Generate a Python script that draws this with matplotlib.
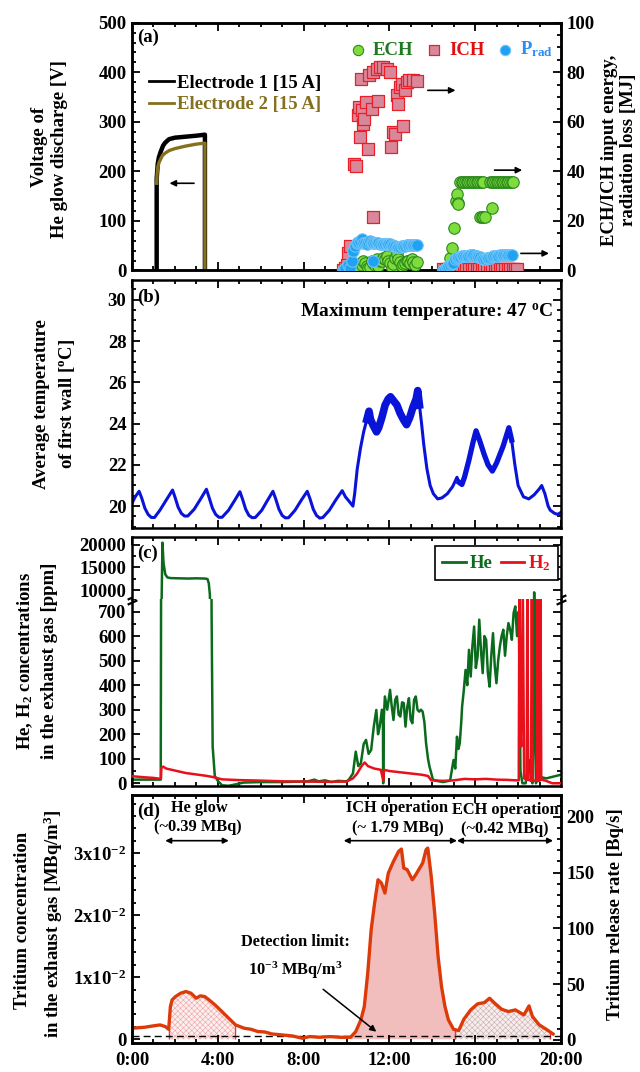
import numpy as np
import matplotlib
matplotlib.use("Agg")
import matplotlib.pyplot as plt
from matplotlib.ticker import MultipleLocator, FixedLocator, FixedFormatter, FuncFormatter
from matplotlib.lines import Line2D
from matplotlib import transforms

plt.rcParams.update({
    "font.family": ["Liberation Serif", "DejaVu Serif"],
    "font.weight": "bold",
    "font.size": 13.5,
    "mathtext.fontset": "custom",
    "mathtext.rm": "Liberation Serif:bold",
    "mathtext.it": "Liberation Serif:italic:bold",
    "mathtext.bf": "Liberation Serif:bold",
    "mathtext.sf": "Liberation Serif:bold",
    "axes.linewidth": 1.8,
    "hatch.linewidth": 0.4,
})
FS = 13.5
FA = 11.8

# ---------------- (a) glow discharge voltage ----------------
e1_t = [1.15, 1.15, 1.20, 1.25, 1.34, 1.45, 1.55, 1.73, 2.0, 2.5, 3.0, 3.38, 3.40, 3.40]
e1_v = [0, 185, 215, 228, 240, 252, 258, 265, 268, 270, 272, 274, 274, 0]
e2_t = [1.15, 1.17, 1.20, 1.26, 1.35, 1.42, 1.55, 1.73, 2.0, 2.5, 3.0, 3.40, 3.40]
e2_v = [176, 195, 208, 218, 226, 232, 237, 242, 246, 251, 255, 257, 0]

# ECH / ICH input energy and radiation loss [MJ]
ech_t = [9.93, 10.0, 10.16, 10.3, 10.40, 10.55, 10.63, 10.71, 10.79, 10.86, 10.94, 11.02, 11.1, 11.17,
         11.25, 11.33, 11.41, 11.48, 11.56, 11.64, 11.72, 11.80, 11.87, 11.95, 12.03, 12.11, 12.18,
         12.26, 12.34, 12.42, 12.49, 12.57, 12.65, 12.73, 12.8, 12.88, 12.96, 13.04, 13.12, 13.19, 13.30,
         14.51, 14.59, 14.67, 14.75, 14.83, 14.90, 15.01, 15.11, 15.17, 15.18, 15.21,
         15.29, 15.37, 15.45, 15.53, 15.60, 15.68, 15.76, 15.84, 15.91, 15.99, 16.07, 16.15, 16.23,
         16.30, 16.38, 16.23, 16.30, 16.38, 16.46, 16.77,
         16.69, 16.77, 16.85, 16.93, 17.00, 17.08, 17.16, 17.24, 17.31, 17.39, 17.47, 17.55, 17.62,
         17.70, 17.78]
ech_e = [1.1, 0.5, 2.4, 1.5, 1.1, 1.8, 1.0, 2.4, 3.8, 3.1, 2.0, 1.1, 1.5, 3.8,
         3.0, 2.4, 4.5, 2.0, 3.8, 4.0, 5.1, 4.5, 5.8, 3.8, 3.0, 1.1, 2.5,
         5.1, 6.5, 4.5, 3.5, 1.8, 2.5, 3.1, 4.0, 3.8, 3.0, 4.5, 3.5, 2.4, 3.5,
         0.0, 0.4, 0.8, 1.1, 5.1, 9.2, 17.3, 28.1, 30.8, 27.4, 26.8,
         35.8, 35.8, 35.8, 35.8, 35.8, 35.8, 35.8, 35.8, 35.8, 35.8, 35.8, 35.8, 35.8,
         35.8, 35.8, 21.4, 21.4, 21.4, 21.4, 25.1,
         35.8, 35.8, 35.8, 35.8, 35.8, 35.8, 35.8, 35.8, 35.8, 35.8, 35.8, 35.8, 35.8,
         35.8, 35.8]
ich_t = [9.85, 9.93, 10.01, 10.09, 10.16, 10.35, 10.44, 10.52, 10.57, 10.63, 10.71, 10.79, 10.83,
         10.91, 11.02, 10.68, 11.06, 11.17, 11.22, 11.41, 11.48, 11.56, 11.72, 11.87, 12.03, 11.25,
         12.07, 12.18, 12.26, 12.34, 12.42, 12.49, 12.57, 12.65, 12.73, 12.80, 12.93, 13.08, 13.30,
         14.51, 14.63, 14.75, 14.87, 14.99, 15.11, 15.23, 15.35, 15.47, 15.59, 15.71, 15.83, 15.95,
         16.07, 16.19, 16.31, 16.43, 16.55, 16.67, 16.79, 16.91, 17.03, 17.15, 17.27, 17.39, 17.51,
         17.63, 17.75, 17.87, 17.93]
ich_e = [0.3, 1.1, 2.4, 7.0, 9.7, 43.0, 42.3, 62.6, 65.9, 53.8, 64.6, 59.2, 61.2,
         68.0, 49.0, 77.4, 78.8, 65.3, 80.1, 81.5, 68.6, 82.2, 82.2, 81.5, 80.1, 21.6,
         49.7, 55.8, 55.1, 70.7, 67.3, 74.0, 75.4, 58.2, 72.7, 76.1, 76.8, 76.8, 76.4,
         0.7, 0.7, 0.7, 0.7, 0.7, 0.7, 0.7, 0.7, 0.7, 0.7, 0.7, 0.7, 0.7,
         0.7, 0.7, 0.7, 0.7, 0.7, 0.7, 0.7, 0.7, 0.7, 0.7, 0.7, 0.7, 0.7,
         0.7, 0.7, 0.7, 0.7]
prad_t = [9.85, 9.93, 10.09, 10.16, 10.24, 10.32, 10.40, 10.47, 10.55, 10.63, 10.71, 10.79, 10.86,
          10.94, 11.02, 11.10, 11.17, 11.25, 11.25, 11.33, 11.41, 11.48, 11.56, 11.64, 11.72, 11.80,
          11.87, 11.95, 12.03, 12.11, 12.18, 12.26, 12.34, 12.42, 12.49, 12.57, 12.65, 12.73, 12.80,
          12.88, 12.96, 13.04, 13.12, 13.20, 13.30,
          14.51, 14.59, 14.67, 14.75, 14.83, 14.90, 14.98, 15.06, 15.13, 15.21, 15.29, 15.37, 15.45,
          15.52, 15.60, 15.68, 15.76, 15.84, 15.91, 15.99, 16.07, 16.15, 16.23, 16.30, 16.38, 16.46,
          16.53, 16.61, 16.69, 16.77, 16.85, 16.93, 17.00, 17.08, 17.16, 17.24, 17.31, 17.39, 17.47,
          17.55, 17.62, 17.70]
prad_e = [0.0, 1.1, 2.4, 1.1, 3.8, 7.8, 9.9, 11.2, 11.5, 11.9, 12.6, 11.2, 11.0,
          10.5, 11.5, 11.9, 11.5, 11.2, 3.8, 11.0, 11.2, 11.0, 10.8, 10.6, 10.5, 10.6,
          10.8, 10.6, 10.5, 10.2, 9.9, 9.7, 9.5, 9.5, 9.5, 9.7, 9.9, 10.0, 10.1,
          10.1, 10.1, 10.1, 10.1, 10.1, 10.1,
          0.0, 0.5, 1.1, 1.8, 2.4, 2.8, 3.1, 4.5, 5.0, 5.4, 5.6, 5.8, 5.8,
          5.8, 5.8, 6.0, 6.2, 6.2, 6.1, 6.0, 5.8, 5.6, 5.4, 5.0, 4.5, 4.6,
          4.9, 5.0, 5.1, 5.4, 5.8, 5.8, 5.8, 6.0, 6.1, 6.1, 6.1, 6.2, 6.2,
          6.2, 6.2, 6.2]

# ---------------- (b) first wall temperature ----------------
temp_t = [0.00, 0.15, 0.33, 0.45, 0.60, 0.75, 0.90, 1.05, 1.30, 1.60, 1.89, 2.00, 2.15, 2.30, 2.45,
          2.60, 2.90, 3.20, 3.47, 3.60, 3.75, 3.90, 4.05, 4.20, 4.50, 4.80, 5.03, 5.15, 5.30, 5.45,
          5.60, 5.75, 6.05, 6.30, 6.57, 6.70, 6.85, 7.00, 7.15, 7.30, 7.60, 7.90, 8.17, 8.30, 8.45,
          8.60, 8.75, 8.90, 9.20, 9.50, 9.80, 9.95, 10.15, 10.30, 10.38, 10.50, 10.65, 10.80, 10.95,
          11.05, 11.12, 11.25, 11.40, 11.50, 11.65, 11.80, 11.95, 12.05, 12.20, 12.35, 12.50, 12.65,
          12.80, 12.95, 13.10, 13.25, 13.32, 13.40, 13.50, 13.60, 13.75, 13.90, 14.05, 14.25, 14.45,
          14.70, 14.95, 15.15, 15.25, 15.38, 15.50, 15.70, 15.90, 16.04, 16.20, 16.42, 16.60, 16.80,
          17.00, 17.30, 17.57, 17.70, 17.85, 18.00, 18.25, 18.50, 18.75, 19.00, 19.10, 19.25, 19.40,
          19.50, 19.70, 19.85, 20.00]
temp_v = [20.15, 20.45, 20.72, 20.40, 19.90, 19.60, 19.45, 19.45, 19.80, 20.30, 20.78, 20.45, 19.95,
          19.65, 19.52, 19.52, 19.85, 20.35, 20.82, 20.40, 19.90, 19.60, 19.46, 19.46, 19.80, 20.30,
          20.70, 20.35, 19.85, 19.55, 19.44, 19.45, 19.80, 20.25, 20.72, 20.35, 19.85, 19.55, 19.43,
          19.44, 19.80, 20.30, 20.72, 20.35, 19.85, 19.55, 19.42, 19.45, 19.80, 20.30, 20.75, 20.45,
          20.20, 20.00, 20.60, 21.80, 22.80, 23.60, 24.20, 24.60, 24.20, 23.90, 23.60, 23.80, 24.30,
          24.90, 25.20, 25.30, 25.10, 24.90, 24.50, 24.20, 23.95, 24.30, 24.80, 25.20, 25.60, 24.90,
          24.00, 23.00, 21.80, 21.00, 20.60, 20.35, 20.40, 20.60, 20.95, 21.40, 21.15, 21.05, 21.40,
          22.20, 23.10, 23.65, 23.20, 22.50, 22.00, 21.70, 22.10, 22.90, 23.80, 23.20, 22.00, 21.00,
          20.45, 20.35, 20.55, 20.85, 21.00, 20.60, 20.00, 19.80, 19.65, 19.60, 19.70]

# ---------------- (c) He / H2 concentrations [ppm] ----------------
he_t = [0.00, 0.50, 1.00, 1.34, 1.36, 1.42, 1.47, 1.55, 1.65, 1.80, 2.20, 2.60, 3.00, 3.40, 3.52,
        3.58, 3.63, 3.67, 3.71, 3.76, 3.86, 4.00, 4.20, 4.50, 4.80, 5.20, 6.00, 7.00, 8.20, 8.50,
        8.70, 9.00, 9.30, 9.60, 10.00,
        10.11, 10.30, 10.43, 10.55, 10.67, 10.80, 10.91, 11.03, 11.15, 11.27, 11.39, 11.47, 11.55,
        11.65, 11.70, 11.71, 11.73, 11.79, 11.90, 12.03, 12.10, 12.19, 12.27, 12.35, 12.43, 12.51,
        12.59, 12.67, 12.75, 12.83, 12.91, 12.99, 13.07, 13.15, 13.23, 13.31, 13.39, 13.47, 13.55,
        13.63, 13.71, 13.80, 13.87, 14.03, 14.20, 14.50, 14.83,
        14.99, 15.07, 15.15, 15.22, 15.28, 15.35, 15.39, 15.47, 15.55, 15.63, 15.71, 15.79, 15.87,
        15.95, 16.03, 16.11, 16.19, 16.27, 16.35, 16.43, 16.51, 16.59, 16.67, 16.75, 16.83, 16.91,
        16.99, 17.07, 17.15, 17.23, 17.31, 17.39, 17.47, 17.55, 17.63, 17.71, 17.79, 17.87, 17.95,
        18.03, 18.07, 18.11, 18.20, 18.35, 18.45, 18.51, 18.60, 18.67, 18.72, 18.75, 18.78, 18.83,
        18.99, 19.31, 19.63, 19.95, 20.00]
he_v = [15, 15, 15, 15, 1000, 20500, 16000, 13500, 12800, 12650, 12600, 12550, 12600, 12550, 12450,
        11500, 9000, 2000, 700, 150, 30, 10, -8, -10, -5, 3, 5, 5, 8, 15,
        8, 12, 5, 10, 8,
        15, 40, 129, 70, 82, 160, 177, 120, 136, 230, 299, 200, 231,
        300, 240, 0, 250, 354, 300, 381, 320, 258, 340, 354, 280, 272,
        330, 327, 231, 310, 347, 260, 245, 340, 354, 300, 292, 300, 292,
        250, 163, 100, 68, 15, 10, 5, 11,
        95, 60, 190, 140, 163, 250, 313, 380, 462, 400, 544, 435, 560,
        639, 470, 517, 667, 540, 449, 600, 585, 450, 394, 520, 612, 480,
        408, 500, 558, 600, 626, 520, 600, 653, 626, 585, 694, 721, 600,
        700, 400, 50, 0, 0, 60, 95, 20, 0, 300, 9500, 300, 0,
        27, 20, 27, 34, 35]
h2_t = [0.00, 0.50, 1.00, 1.35, 1.37, 1.45, 1.60, 2.00, 2.50, 3.00, 3.50, 3.80, 4.20, 5.00, 6.00,
        7.00, 8.00, 9.00, 10.00, 10.30, 10.50, 10.70, 10.85, 11.00, 11.30, 11.60, 11.72, 11.75,
        12.00, 12.50, 13.00, 13.50, 13.80, 13.95, 14.50, 15.00, 15.50, 16.00, 16.50, 17.00, 17.50,
        17.90, 18.03, 18.06, 18.10, 18.14, 18.22, 18.28, 18.40, 18.43, 18.47, 18.60, 18.64, 18.68,
        18.88, 18.91, 18.95, 19.00, 19.04, 19.08, 19.30, 19.60, 20.00]
h2_v = [29, 25, 22, 18, 62, 68, 60, 52, 42, 36, 30, 25, 16, 13, 11,
        8, 7, 6, 7, 20, 40, 70, 85, 70, 60, 55, 10, 55,
        50, 45, 40, 35, 30, 12, 10, 12, 18, 16, 18, 15, 14,
        12, 12, 800, 231, 150, 800, 20, 15, 800, 15, 10, 800, 10,
        12, 800, 10, 10, 800, 15, 10, 0, 0]

# ---------------- (d) tritium ----------------
tr_t = [0.00, 0.59, 1.07, 1.31, 1.55, 1.71, 1.79, 1.87, 2.03, 2.27, 2.51, 2.75, 2.99, 3.18, 3.39,
        3.63, 3.87, 4.11, 4.35, 4.59, 4.83, 5.23, 5.55, 5.87, 6.19, 6.51, 6.99, 7.47, 7.95, 8.27,
        8.75, 9.23, 9.71, 10.19, 10.43, 10.67, 10.83, 10.99, 11.15, 11.31, 11.47, 11.63, 11.79,
        11.95, 12.19, 12.43, 12.56, 12.67, 12.83, 13.07, 13.23, 13.55, 13.71, 13.79, 13.95, 14.11,
        14.27, 14.43, 14.59, 14.75, 14.99, 15.23, 15.47, 15.79, 16.11, 16.43, 16.67, 16.91, 17.23,
        17.55, 17.87, 18.27, 18.51, 18.67, 18.99, 19.31, 19.63]
tr_c = [0.00178, 0.00194, 0.00220, 0.00231, 0.00205, 0.00161, 0.00528, 0.00635, 0.00689, 0.00743,
        0.00770, 0.00743, 0.00662, 0.00700, 0.00689, 0.00624, 0.00554, 0.00474, 0.00393, 0.00312,
        0.00231, 0.00178, 0.00161, 0.00124, 0.00118, 0.00086, 0.00070, 0.00054, 0.00016, 0.00043,
        0.00032, 0.00043, 0.00032, 0.00032, 0.00124, 0.00312, 0.00528, 0.01066, 0.01766, 0.02196,
        0.02573, 0.02519, 0.02358, 0.02681, 0.02869, 0.03031, 0.03068, 0.02761, 0.02735, 0.02573,
        0.02654, 0.02842, 0.03058, 0.03084, 0.02627, 0.02035, 0.01335, 0.00850, 0.00528, 0.00312,
        0.00161, 0.00140, 0.00323, 0.00474, 0.00571, 0.00592, 0.00662, 0.00581, 0.00484, 0.00447,
        0.00474, 0.00393, 0.00538, 0.00366, 0.00231, 0.00161, 0.00086]
glow_span = (1.71, 4.78)
ich_span = (10.19, 15.08)
ech_span = (15.08, 19.47)
detection_limit = 0.0006

xticks_major = [0, 4, 8, 12, 16, 20]

# ---------------- figure ----------------
fig = plt.figure(figsize=(6.4, 10.72), dpi=100)


def rect(top, bottom, left=132, right=561):
    return [left / 640, 1 - bottom / 1072, (right - left) / 640, (bottom - top) / 1072]


def style(ax, left=True, right=True, top=True, bottom=True, labelleft=True, labelright=False,
          labelbottom=False):
    ax.tick_params(axis='both', which='both', direction='in', width=1.3, labelsize=FS, pad=4)
    ax.tick_params(axis='x', which='both', top=top, bottom=bottom, labelbottom=labelbottom,
                   labeltop=False)
    ax.tick_params(axis='y', which='both', left=left, right=right, labelleft=labelleft,
                   labelright=labelright)
    ax.tick_params(which='major', length=5.5)
    ax.tick_params(which='minor', length=3)


def xaxis(ax):
    ax.set_xlim(0, 20)
    ax.xaxis.set_major_locator(FixedLocator(xticks_major))
    ax.xaxis.set_minor_locator(MultipleLocator(1))
    ax.xaxis.set_major_formatter(FuncFormatter(lambda v, p: f"{int(round(v))}:00"))


def right_axis(ax2, major, minor):
    ax2.yaxis.set_major_locator(MultipleLocator(major))
    ax2.yaxis.set_minor_locator(MultipleLocator(minor))
    ax2.tick_params(axis='y', which='both', direction='in', width=1.3, labelsize=FS, right=True,
                    left=False, labelright=True, pad=4)
    ax2.tick_params(which='major', length=5.5)
    ax2.tick_params(which='minor', length=3)
    ax2.tick_params(axis='x', which='both', top=False, bottom=False)
    for sp in ax2.spines.values():
        sp.set_linewidth(1.8)


# ----- (a) -----
axa = fig.add_axes(rect(22.7, 270.5))
xaxis(axa)
axa.plot(e1_t, e1_v, color='black', lw=3.2, solid_joinstyle='round')
axa.plot(e2_t, e2_v, color='#85701f', lw=2.4)
axa.set_ylim(0, 500)
axa.yaxis.set_major_locator(MultipleLocator(100))
axa.yaxis.set_minor_locator(MultipleLocator(20))
style(axa, right=False)
axa.text(0.012, 0.94, '(a)', transform=axa.transAxes, va='center', fontsize=FS)
leg1 = axa.legend([Line2D([], [], color='black', lw=2), Line2D([], [], color='#85701f', lw=2)],
                  ['Electrode 1 [15 A]', 'Electrode 2 [15 A]'], loc='upper left',
                  bbox_to_anchor=(0.04, 0.79), frameon=False, handlelength=1.35,
                  handletextpad=0.15, labelspacing=0.22, borderpad=0, borderaxespad=0, fontsize=FS)
for t, c in zip(leg1.get_texts(), ['black', '#85701f']):
    t.set_color(c)
axa.annotate('', xy=(1.62, 176), xytext=(3.02, 176),
             arrowprops=dict(arrowstyle='-|>', color='black', lw=1.2, mutation_scale=9))

axa2 = axa.twinx()
axa2.set_ylim(0, 100)
right_axis(axa2, 20, 5)
s_ich = axa2.scatter(ich_t, ich_e, marker='s', s=66, facecolor='#d9879a', edgecolor='#e8202a',
                     linewidths=0.9, zorder=3)
s_ech = axa2.scatter(ech_t, ech_e, marker='o', s=68, facecolor='#80dc3c', edgecolor='#2a8a1e',
                     linewidths=0.8, zorder=4)
s_prad = axa2.scatter(prad_t, prad_e, marker='o', s=68, facecolor='#1fa2f2', edgecolor='#6ec3f7',
                      linewidths=0.8, zorder=5)
leg2 = axa2.legend([s_ech, s_ich, s_prad], ['ECH', 'ICH', 'P$_{\\rm rad}$'], loc='upper right',
                   bbox_to_anchor=(1.012, 0.985), ncol=3, frameon=False, handlelength=0.7,
                   handletextpad=0.45, columnspacing=0.75, scatterpoints=1, borderpad=0.2,
                   fontsize=FS, markerscale=0.9)
for t, c in zip(leg2.get_texts(), ['#1e7a1e', '#e01010', '#2a8ef5']):
    t.set_color(c)
for y0, x0, x1 in [(72.7, 13.66, 15.21), (40.5, 16.77, 18.32), (6.9, 18.0, 19.57)]:
    axa2.annotate('', xy=(x1, y0), xytext=(x0, y0),
                  arrowprops=dict(arrowstyle='-|>', color='black', lw=1.2, mutation_scale=9))

fig.text(40 / 640, 1 - 147 / 1072, 'Voltage of', rotation=90, ha='center', va='center', fontsize=FS)
fig.text(60 / 640, 1 - 149 / 1072, 'He glow discharge [V]', rotation=90, ha='center', va='center',
         fontsize=FS)
fig.text(609 / 640, 1 - 150 / 1072, 'ECH/ICH input energy,', rotation=90, ha='center', va='center',
         fontsize=FS)
fig.text(629 / 640, 1 - 150 / 1072, 'radiation loss [MJ]', rotation=90, ha='center', va='center',
         fontsize=FS)

# ----- (b) -----
axb = fig.add_axes(rect(280, 528))
xaxis(axb)
axb.plot(temp_t, temp_v, color='#0a14d8', lw=2.2)
tt = np.array(temp_t)
tv = np.array(temp_v)
m1 = (tt >= 10.9) & (tt <= 13.4)
m2 = (tt >= 15.2) & (tt <= 17.75)
axb.plot(tt[m1], tv[m1], color='#0a14d8', lw=5.5)
axb.plot(tt[m2], tv[m2], color='#0a14d8', lw=3.8)
axb.set_ylim(18.94, 30.96)
axb.yaxis.set_major_locator(MultipleLocator(2))
axb.yaxis.set_minor_locator(MultipleLocator(0.5))
style(axb)
axb.text(0.012, 0.929, '(b)', transform=axb.transAxes, va='center', fontsize=FS)
axb.text(0.983, 0.872, 'Maximum temperature: 47 $^{\\rm o}$C', transform=axb.transAxes,
         ha='right', va='center', fontsize=14)
fig.text(42 / 640, 1 - 404 / 1072, 'Average temperature', rotation=90, ha='center', va='center',
         fontsize=FS)
fig.text(67 / 640, 1 - 404 / 1072, 'of first wall [$^{\\rm o}$C]', rotation=90, ha='center',
         va='center', fontsize=FS)

# ----- (c) -----
axcl = fig.add_axes(rect(599.3, 786))
axcu = fig.add_axes(rect(537, 599.3))
for ax in (axcl, axcu):
    xaxis(ax)
    ax.plot(he_t, he_v, color='#0b6b1c', lw=1.8, zorder=2)
    ax.plot(h2_t, h2_v, color='#e8101a', lw=1.8, zorder=3)
axcl.set_ylim(-11, 750)
axcl.yaxis.set_major_locator(MultipleLocator(100))
axcl.yaxis.set_minor_locator(MultipleLocator(50))
axcl.spines['top'].set_visible(False)
style(axcl, top=False)
axcl.patch.set_alpha(0)
axcu.set_ylim(7950, 21760)
axcu.yaxis.set_major_locator(FixedLocator([10000, 15000, 20000]))
axcu.yaxis.set_minor_locator(FixedLocator([12500, 17500]))
axcu.spines['bottom'].set_visible(False)
style(axcu, bottom=False)
axcu.text(0.012, 0.743, '(c)', transform=axcu.transAxes, va='center', fontsize=FS)
leg3 = axcu.legend([Line2D([], [], color='#0b6b1c', lw=2), Line2D([], [], color='#e8101a', lw=2)],
                   ['He', 'H$_2$'], loc='upper right', bbox_to_anchor=(0.993, 0.86), ncol=2,
                   frameon=True, fancybox=False, edgecolor='black', framealpha=1,
                   handlelength=1.25, handletextpad=0.2, columnspacing=0.45, borderpad=0.4,
                   borderaxespad=0, fontsize=FS)
leg3.get_frame().set_linewidth(1.2)
for t, c in zip(leg3.get_texts(), ['#0b6b1c', '#e8101a']):
    t.set_color(c)
# break marks
for xpos in (0, 1):
    for dy in (-2.0, 1.5):
        tr = transforms.offset_copy(axcl.transAxes, fig=fig, x=0, y=dy, units='points')
        axcl.plot([xpos], [1], transform=tr, marker=[(-1, -0.45), (1, 0.45)], ms=7, mew=1.6,
                  color='black', ls='none', clip_on=False, zorder=10)
fig.text(25 / 640, 1 - 661 / 1072, 'He, H$_2$ concentrations', rotation=90, ha='center',
         va='center', fontsize=FS)
fig.text(50 / 640, 1 - 661 / 1072, 'in the exhaust gas [ppm]', rotation=90, ha='center',
         va='center', fontsize=FS)

# ----- (d) -----
axd = fig.add_axes(rect(795, 1043.3))
xaxis(axd)
trt = np.array(tr_t)
trc = np.array(tr_c)


def seg(a, b):
    m = (trt > a) & (trt < b)
    xs = np.concatenate([[a], trt[m], [b]])
    ys = np.concatenate([[np.interp(a, trt, trc)], trc[m], [np.interp(b, trt, trc)]])
    return xs, ys


xs, ys = seg(*glow_span)
axd.fill_between(xs, 0, ys, facecolor='#fcefef', edgecolor='#eda3a3', hatch='xxxxxx', linewidth=0)
xs, ys = seg(*ich_span)
axd.fill_between(xs, 0, ys, facecolor='#f2bdbd', edgecolor='none', linewidth=0)
xs, ys = seg(*ech_span)
axd.fill_between(xs, 0, ys, facecolor='#f9ecec', edgecolor='#c4b0b0', hatch='xxxxxx', linewidth=0)
edges = [glow_span[0], glow_span[1], ech_span[0], ech_span[1]]
axd.vlines(edges, 0, np.interp(edges, trt, trc), color='#e03a3a', lw=1.0)
axd.axhline(detection_limit, color='black', lw=1.0, ls=(0, (5, 3)))
axd.plot(tr_t, tr_c, color='#dd3a0a', lw=2.4)
axd.set_ylim(-0.00065, 0.0394)
axd.yaxis.set_major_locator(FixedLocator([0, 0.01, 0.02, 0.03]))
axd.yaxis.set_major_formatter(FixedFormatter(['0', '1x10$^{-2}$', '2x10$^{-2}$', '3x10$^{-2}$']))
axd.yaxis.set_minor_locator(MultipleLocator(0.002))
style(axd, right=False, labelbottom=True)
axd.tick_params(axis='x', pad=6)
axd.text(0.012, 0.935, '(d)', transform=axd.transAxes, va='center', fontsize=FS)
bt = axd.get_xaxis_transform()
axd.text(3.15, 0.946, 'He glow', transform=bt, ha='center', va='center', fontsize=FA)
axd.text(3.07, 0.872, '(~0.39 MBq)', transform=bt, ha='center', va='center', fontsize=FA)
axd.text(12.38, 0.946, 'ICH operation', transform=bt, ha='center', va='center', fontsize=FA)
axd.text(12.38, 0.866, '(~ 1.79 MBq)', transform=bt, ha='center', va='center', fontsize=FA)
axd.text(14.91, 0.94, 'ECH operation', transform=bt, ha='left', va='center', fontsize=FA,
         clip_on=True)
axd.text(17.39, 0.862, '(~0.42 MBq)', transform=bt, ha='center', va='center', fontsize=FA)
for a, b in [(1.55, 4.51), (9.87, 15.15), (15.15, 19.63)]:
    axd.annotate('', xy=(b, 0.816), xytext=(a, 0.816), xycoords=bt, textcoords=bt,
                 arrowprops=dict(arrowstyle='<|-|>', color='black', lw=1.2, mutation_scale=8,
                                 shrinkA=0, shrinkB=0))
axd.text(7.61, 0.407, 'Detection limit:', transform=bt, ha='center', va='center', fontsize=FA)
axd.text(7.63, 0.295, '10$^{-3}$ MBq/m$^{3}$', transform=bt, ha='center', va='center',
         fontsize=FA)
axd.annotate('', xy=(11.39, 0.0467), xytext=(8.91, 0.2175), xycoords=bt, textcoords=bt,
             arrowprops=dict(arrowstyle='-|>', color='black', lw=1.1, mutation_scale=9,
                             shrinkA=0, shrinkB=0))

axd2 = axd.twinx()
axd2.set_ylim(-3, 219.5)
right_axis(axd2, 50, 10)
fig.text(23 / 640, 1 - 920 / 1072, 'Tritium concentration', rotation=90, ha='center', va='center',
         fontsize=FS)
fig.text(53 / 640, 1 - 924 / 1072, 'in the exhaust gas [MBq/m$^3$]', rotation=90, ha='center',
         va='center', fontsize=FS)
fig.text(615 / 640, 1 - 914 / 1072, 'Tritium release rate [Bq/s]', rotation=90, ha='center',
         va='center', fontsize=FS)

fig.savefig('out.png', dpi=100)
